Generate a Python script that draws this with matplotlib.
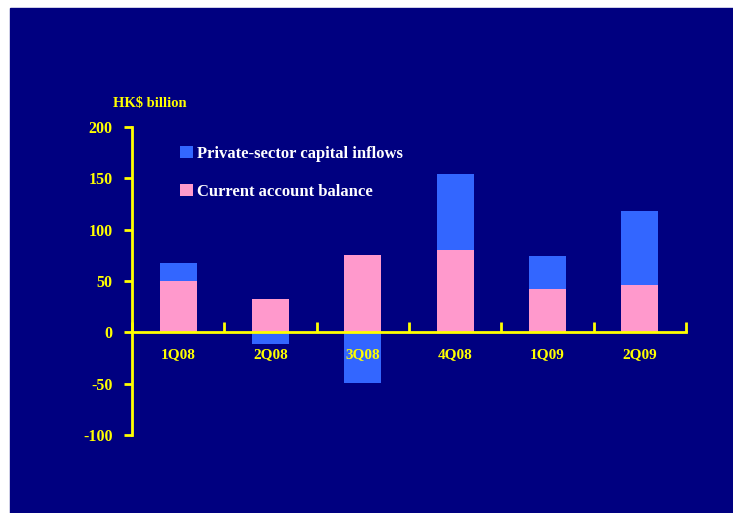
import matplotlib.pyplot as plt
import numpy as np

quarters = ['1Q08', '2Q08', '3Q08', '4Q08', '1Q09', '2Q09']
current_account = [50, 32, 75, 80, 42, 46]
capital_inflows = [18, -11, -49, 74, 32, 72]

navy = '#000080'
pink = '#FF99CC'
blue = '#3366FF'
yellow = '#FFFF00'

plt.rcParams['font.family'] = ['Liberation Serif', 'DejaVu Serif']
plt.rcParams['font.weight'] = 'bold'
plt.rcParams['axes.unicode_minus'] = False

fig = plt.figure(figsize=(7.33, 5.13), dpi=100)
# navy panel with a thin white margin on the top and left
fig.patches.append(plt.Rectangle((10 / 733, 0), 1, (513 - 8) / 513,
                                 transform=fig.transFigure, color=navy, zorder=-10))
ax = fig.add_axes([132 / 733, (513 - 435) / 513, (686 - 132) / 733, (435 - 127) / 513])
ax.set_facecolor('none')

x = np.arange(len(quarters))
ca = np.array(current_account)
ci = np.array(capital_inflows)
# inflows stack on top of the current account when positive, hang below zero otherwise
ci_bottom = np.where(ci > 0, ca, 0)

ax.bar(x, ci, 0.4, bottom=ci_bottom, color=blue, zorder=2,
       label='Private-sector capital inflows')
ax.bar(x, ca, 0.4, color=pink, zorder=2, label='Current account balance')

ax.set_xlim(-0.5, len(quarters) - 0.5)
ax.set_ylim(-100, 200)
ax.set_yticks(np.arange(-100, 201, 50))

for s in ['top', 'right']:
    ax.spines[s].set_visible(False)
ax.spines['left'].set_color(yellow)
ax.spines['left'].set_linewidth(2)
ax.spines['bottom'].set_color(yellow)
ax.spines['bottom'].set_linewidth(2)
ax.spines['bottom'].set_position(('data', 0))
ax.spines['bottom'].set_zorder(3)

ax.tick_params(axis='y', colors=yellow, direction='out', length=6, width=2,
               labelsize=11.5, pad=8)
ax.set_xticks(np.arange(len(quarters) + 1) - 0.5)
ax.set_xticklabels([])
ax.tick_params(axis='x', colors=yellow, direction='in', length=7, width=2)

for i, q in enumerate(quarters):
    ax.text(i, -22, q, color=yellow, fontsize=11, fontweight='bold',
            ha='center', va='center', zorder=4)

fig.text(113 / 733, (513 - 103) / 513, 'HK$ billion', color=yellow,
         fontsize=10.5, fontweight='bold', va='center')

handles, labels = ax.get_legend_handles_labels()
leg = ax.legend(handles, labels, loc='upper left', frameon=False,
                bbox_to_anchor=(165 / 733, (513 - 131) / 513),
                bbox_transform=fig.transFigure,
                handlelength=0.75, handleheight=0.75, handletextpad=0.25,
                labelspacing=1.3, fontsize=12)
for t in leg.get_texts():
    t.set_color('white')

fig.savefig('out.png', dpi=100, facecolor='white')
